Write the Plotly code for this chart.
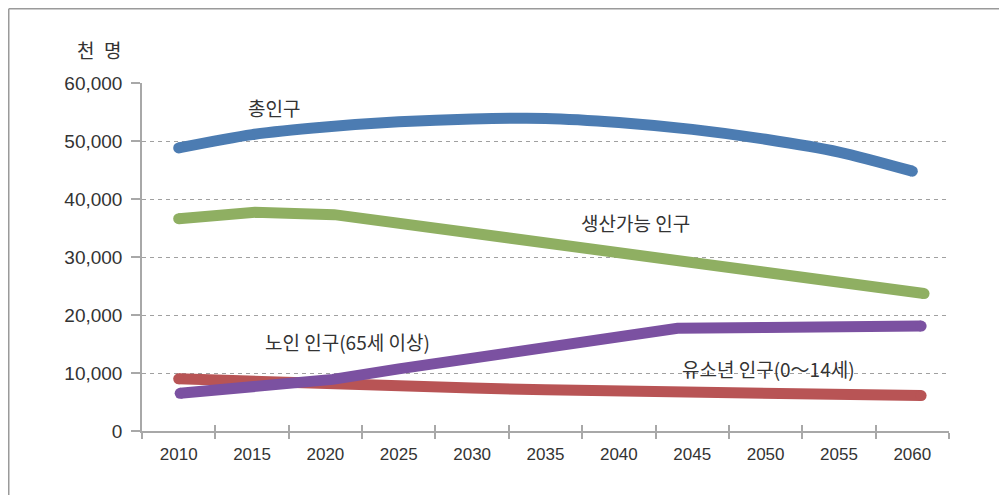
import plotly.graph_objects as go

# ---- data (thousand persons) ----
year_labels = ["2010", "2015", "2020", "2025", "2030", "2035", "2040", "2045", "2050", "2055", "2060"]
label_years = [2010, 2015, 2020, 2025, 2030, 2035, 2040, 2045, 2050, 2055, 2060]
category_edges = [2007.5, 2012.5, 2017.5, 2022.5, 2027.5, 2032.5, 2037.5, 2042.5, 2047.5, 2052.5, 2057.5, 2062.5]

total_x = [2010, 2015, 2020, 2025, 2030, 2035, 2040, 2045, 2050, 2055, 2060]
total_y = [48800, 51100, 52400, 53300, 53800, 53900, 53200, 52000, 50300, 48100, 44800]

working_x = [2010, 2015.2, 2020.6, 2025, 2030, 2035, 2040, 2045, 2050, 2055, 2060.8]
working_y = [36600, 37700, 37300, 35800, 34100, 32400, 30700, 29100, 27400, 25600, 23700]

elderly_x = [2010.1, 2015, 2020.5, 2025, 2030, 2035, 2040, 2044, 2050, 2055, 2060.6]
elderly_y = [6500, 7700, 8900, 10700, 12600, 14500, 16300, 17700, 17850, 17950, 18100]

youth_x = [2010, 2015, 2020, 2025, 2030, 2035, 2040, 2045, 2050, 2055, 2060.6]
youth_y = [9000, 8500, 8000, 7700, 7400, 7100, 6900, 6700, 6450, 6250, 6100]

y_ticks = [0, 10000, 20000, 30000, 40000, 50000, 60000]

KR = "Noto Sans CJK KR"
NUM = "Liberation Sans, Arial, sans-serif"
TXT = "#333333"
AX = "#a8a8a8"
LW = 11

# page has an 8px body margin; plot area target (page px): x 142..949, y 83..431
L, T = 134, 75
PW, PH = 807, 348
W, H = 1007, 495


def cap_sizes(n):
    # round end caps: a marker the width of the line at both ends only
    return [LW] + [0] * (n - 2) + [LW]


fig = go.Figure()
series = [
    (youth_x, youth_y, "유소년 인구(0～14세)", "#b85455", "linear"),
    (elderly_x, elderly_y, "노인 인구(65세 이상)", "#7b51a1", "linear"),
    (working_x, working_y, "생산가능 인구", "#8faf62", "linear"),
    (total_x, total_y, "총인구", "#4c7cb2", "spline"),
]
for xs, ys, name, color, shape in series:
    fig.add_trace(go.Scatter(
        x=xs, y=ys, mode="lines+markers", name=name,
        line=dict(color=color, width=LW, shape=shape, smoothing=0.8),
        marker=dict(color=color, size=cap_sizes(len(xs)), opacity=1,
                    line=dict(width=0, color=color)),
        hoverinfo="skip"))

x_range = [category_edges[0], category_edges[-1]]

fig.update_layout(
    width=W, height=H,
    margin=dict(l=L, r=W - L - PW, t=T, b=H - T - PH),
    paper_bgcolor="white", plot_bgcolor="white",
    showlegend=False,
    xaxis=dict(
        range=x_range, tickmode="array", tickvals=label_years, ticktext=year_labels,
        ticks="", showgrid=False, zeroline=False,
        showline=True, linecolor=AX, linewidth=1.5,
        tickfont=dict(family=NUM, size=17, color=TXT), ticklabelstandoff=7,
        minor=dict(tickmode="array", tickvals=category_edges, ticks="outside",
                   ticklen=6, tickcolor=AX, tickwidth=1.5, showgrid=False),
    ),
    xaxis2=dict(
        overlaying="x", anchor="y", range=x_range, tickmode="array",
        tickvals=category_edges, ticks="inside", ticklen=6, tickcolor=AX, tickwidth=1.5,
        showticklabels=False, showgrid=False, zeroline=False, showline=False,
    ),
    yaxis=dict(
        range=[0, 60000], tickmode="array", tickvals=y_ticks, tickformat=",",
        ticks="outside", ticklen=9, tickcolor=AX, tickwidth=1.5,
        showline=True, linecolor=AX, linewidth=1.5,
        showgrid=True, gridcolor="#a0a0a0", gridwidth=1, griddash="4px,4px",
        zeroline=False,
        tickfont=dict(family=NUM, size=19, color=TXT), ticklabelstandoff=5,
    ),
)

# invisible anchor trace for overlay axis
fig.add_trace(go.Scatter(x=x_range, y=[None, None], xaxis="x2", yaxis="y",
                         mode="lines", hoverinfo="skip", showlegend=False))


def px_x(page_x):
    return (page_x - 8 - L) / PW


def px_y(page_y):
    return (T + PH - (page_y - 8)) / PH


ann_font = dict(family=KR, size=19, color=TXT)
fig.add_annotation(x=2016.5, y=55700, text="총인구", showarrow=False, font=ann_font)
fig.add_annotation(x=2041.1, y=36000, text="생산가능 인구", showarrow=False, font=ann_font)
fig.add_annotation(x=2021.5, y=15400, text="노인 인구(65세 이상)", showarrow=False, font=ann_font)
fig.add_annotation(x=2050.2, y=10800, text="유소년 인구(0～14세)", showarrow=False, font=ann_font)
fig.add_annotation(xref="paper", yref="paper", x=px_x(123), y=px_y(50),
                   xanchor="right", yanchor="middle", text="천\u2002명", showarrow=False,
                   font=dict(family=KR, size=19, color=TXT))

# outer frame (left and top edges), as close to the page edge as the figure allows
frame = dict(color="#9a9a9a", width=1.5)
fig.add_shape(type="line", xref="paper", yref="paper",
              x0=px_x(8.75), x1=px_x(1020),
              y0=px_y(8.75), y1=px_y(8.75), line=frame)
fig.add_shape(type="line", xref="paper", yref="paper",
              x0=px_x(8.75), x1=px_x(8.75),
              y0=px_y(8.75), y1=px_y(510), line=frame)

fig.write_html("out.html")
